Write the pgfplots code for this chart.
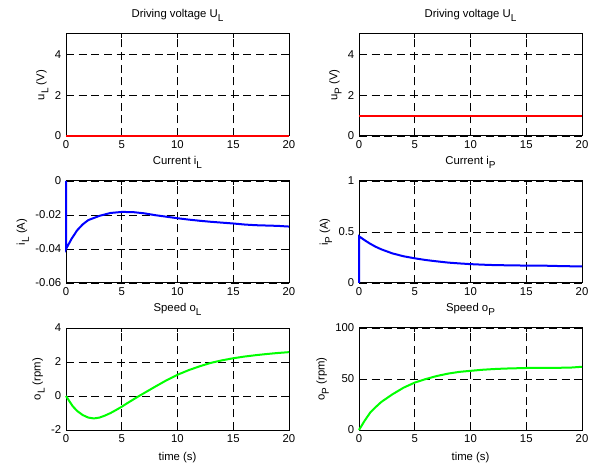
\documentclass[border=0pt]{standalone}
\usepackage{fontspec}
\setmainfont{Liberation Sans}
\usepackage{pgfplots}
\pgfplotsset{compat=1.18}

% MATLAB-like subscript: nearly full size, dropped low
\newcommand\sub[1]{\raisebox{-0.7ex}{\fontsize{7.5}{8}\selectfont #1}}

\pgfplotsset{
  mat/.style={
    width=167.25pt, height=76.5pt, scale only axis,
    xmin=0, xmax=20, xtick={0,5,10,15,20},
    grid=major,
    major grid style={black, dash pattern=on 6pt off 3.5pt, line width=0.5pt},
    axis line style={line width=0.75pt},
    tick align=inside, major tick length=3pt,
    tick style={black, line width=0.5pt},
    font=\fontsize{8.5}{10}\selectfont,
    /pgf/number format/assume math mode=true,
    scaled ticks=false,
    clip=false,
    ylabel style={yshift=-2pt},
  },
}

\begin{document}
\begin{tikzpicture}
\path[use as bounding box] (0,0) rectangle (441.75pt,-349.5pt);

% row 1
\begin{axis}[mat, at={(49.5pt,-25.5pt)}, anchor=north west,
  ymin=0, ymax=5, ytick={0,2,4},
  title={Driving voltage U\sub{L}}, ylabel={u\sub{L} (V)}]
\addplot[red, line width=1.5pt] coordinates {(0,0) (20,0)};
\end{axis}

\begin{axis}[mat, at={(269.25pt,-25.5pt)}, anchor=north west,
  ymin=0, ymax=5, ytick={0,2,4},
  title={Driving voltage U\sub{L}}, ylabel={u\sub{P} (V)}]
\addplot[red, line width=1.5pt] coordinates {(0,1) (20,1)};
\end{axis}

% row 2
\begin{axis}[mat, at={(49.5pt,-135.75pt)}, anchor=north west,
  ymin=-0.06, ymax=0, ytick={-0.06,-0.04,-0.02,0},
  yticklabels={-0.06,-0.04,-0.02,0},
  title={Current i\sub{L}}, ylabel={i\sub{L} (A)}]
\addplot[blue, line width=1.5pt] coordinates {
  (0,0) (0,-0.040) (0.5,-0.034) (1,-0.029) (1.5,-0.0255) (2,-0.023)
  (3,-0.0205) (4,-0.0188) (5,-0.0182) (6,-0.0183) (7,-0.019) (8,-0.0201)
  (9,-0.021) (10,-0.0219) (11,-0.0227) (12,-0.0234) (13,-0.024) (14,-0.0245)
  (15,-0.025) (16,-0.0256) (17,-0.026) (18,-0.0262) (19,-0.0264) (20,-0.0268)};
\end{axis}

\begin{axis}[mat, at={(269.25pt,-135.75pt)}, anchor=north west,
  ymin=0, ymax=1, ytick={0,0.5,1}, yticklabels={0,0.5,1},
  title={Current i\sub{P}}, ylabel={i\sub{P} (A)}]
\addplot[blue, line width=1.5pt] coordinates {
  (0,0) (0,0.458) (0.5,0.42) (1,0.385) (1.5,0.355) (2,0.33) (3,0.29)
  (4,0.262) (5,0.242) (6,0.225) (7,0.212) (8,0.2) (9,0.192) (10,0.185)
  (11,0.18) (12,0.176) (13,0.174) (14,0.172) (15,0.171) (16,0.17)
  (17,0.169) (18,0.166) (19,0.164) (20,0.163)};
\end{axis}

% row 3
\begin{axis}[mat, at={(49.5pt,-246pt)}, anchor=north west,
  ymin=-2, ymax=4, ytick={-2,0,2,4}, yticklabels={-2,0,2,4},
  title={Speed o\sub{L}}, ylabel={o\sub{L} (rpm)},
  xlabel={time (s)}]
\addplot[green, line width=1.5pt] coordinates {
  (0,0) (0.3,-0.3) (0.6,-0.6) (1,-0.88) (1.5,-1.12) (2,-1.27) (2.5,-1.32)
  (3,-1.27) (3.5,-1.15) (4,-1.0) (4.5,-0.82) (5,-0.63) (5.5,-0.42)
  (6,-0.22) (6.5,-0.02) (7,0.17) (8,0.55) (9,0.92) (10,1.25) (11,1.52)
  (12,1.75) (13,1.95) (14,2.1) (15,2.22) (16,2.32) (17,2.4) (18,2.47)
  (19,2.53) (20,2.58)};
\end{axis}

\begin{axis}[mat, at={(269.25pt,-246pt)}, anchor=north west,
  ymin=0, ymax=100, ytick={0,50,100},
  title={Speed o\sub{P}}, ylabel={o\sub{P} (rpm)},
  xlabel={time (s)}]
\addplot[green, line width=1.5pt] coordinates {
  (0,0) (0.5,9) (1,17) (1.5,22.5) (2,27.5) (3,35) (4,41.5) (5,46.5)
  (6,50) (7,53) (8,55.3) (9,57) (10,58) (11,59) (12,59.7) (13,60.2)
  (14,60.5) (15,60.8) (16,61) (17,61) (18,61) (19,61.2) (20,62)};
\end{axis}
\end{tikzpicture}
\end{document}
